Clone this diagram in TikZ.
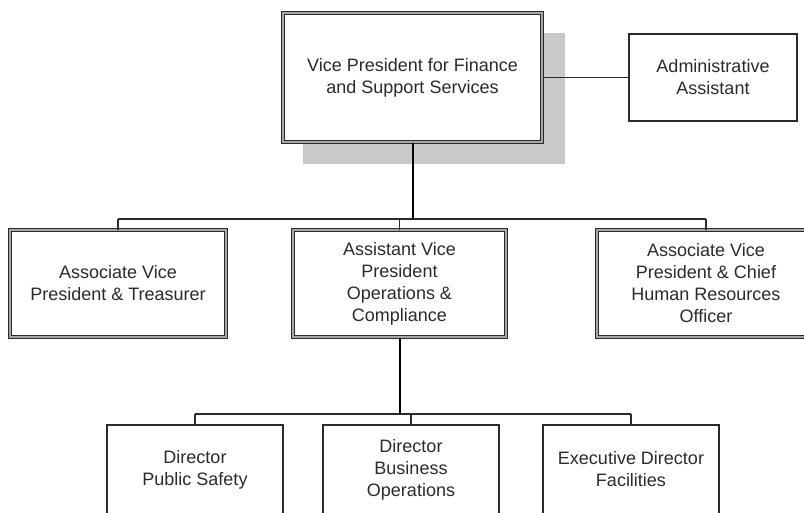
\documentclass[tikz,border=0pt]{standalone}
\usepackage{fontspec}
\setmainfont{Liberation Sans}
\definecolor{ink}{HTML}{2B2B2B}
\definecolor{shadowgray}{HTML}{C9C9C9}
\tikzset{
  orgtext/.style={font=\fontsize{18}{22}\selectfont, text=ink, align=center, inner sep=0pt},
  dblbox/.style={orgtext, draw=ink, line width=1pt, double=black!35, double distance=1.6pt, fill=white},
  sglbox/.style={orgtext, draw=ink, line width=1.2pt, fill=white},
  trunk/.style={draw=black, line width=2pt},
  bus/.style={draw=ink, line width=1.1pt},
}
\begin{document}
\begin{tikzpicture}[x=1pt,y=-1pt]
\useasboundingbox (0,0) rectangle (804,512);
\fill[white] (0,0) rectangle (804,512);
\clip (0,0) rectangle (804,512);
% shadow of top box
\fill[shadowgray] (303,33) rectangle (565,164);
% nodes
\node[dblbox, minimum width=259pt, minimum height=129pt] (vp) at (412.5,77.5)
  {\fontsize{18}{23}\selectfont Vice President for Finance\\and Support Services};
\node[sglbox, minimum width=168pt, minimum height=87pt] (adm) at (713,77.5)
  {Administrative\\Assistant};
\node[dblbox, minimum width=216pt, minimum height=107pt] (avpt) at (118,283.5)
  {Associate Vice\\President \& Treasurer};
\node[dblbox, minimum width=213pt, minimum height=107pt] (avpo) at (399.5,283.5)
  {Assistant Vice\\President\\Operations \&\\Compliance};
\node[dblbox, minimum width=218pt, minimum height=107pt] (avph) at (706,283.5)
  {Associate Vice\\President \& Chief\\Human Resources\\Officer};
\node[sglbox, minimum width=176pt, minimum height=89pt] (dps) at (195,469.5)
  {Director\\Public Safety};
\node[sglbox, minimum width=176pt, minimum height=89pt] (dbo) at (411,469.5)
  {Director\\Business\\Operations};
\node[sglbox, minimum width=176pt, minimum height=89pt] (edf) at (631,469.5)
  {Executive Director\\Facilities};
% bus coordinates
\coordinate (busA) at (412,219);
\coordinate (busB) at (411,414);
% connectors
\draw[bus] (vp.east) -- (adm.west);
\draw[bus] (avpt.north |- busA) -- (avph.north |- busA);
\draw[bus] (avpt.north) -- (avpt.north |- busA);
\draw[bus] (avpo.north) -- (avpo.north |- busA);
\draw[bus] (avph.north) -- (avph.north |- busA);
\draw[trunk] (vp.south) -- (vp.south |- busA);
\draw[bus] (dps.north |- busB) -- (edf.north |- busB);
\draw[bus] (dps.north) -- (dps.north |- busB);
\draw[bus] (dbo.north) -- (dbo.north |- busB);
\draw[bus] (edf.north) -- (edf.north |- busB);
\draw[trunk] (avpo.south) -- (avpo.south |- busB);
\end{tikzpicture}
\end{document}
